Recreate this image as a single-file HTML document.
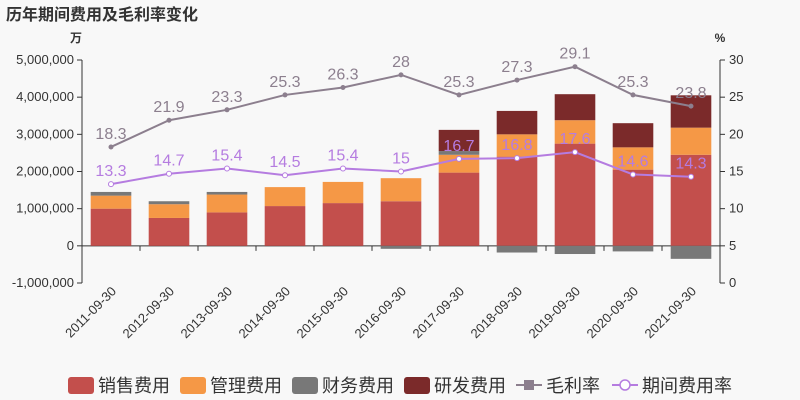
<!DOCTYPE html>
<html><head><meta charset="utf-8"><style>
body{margin:0;background:#f8f8f8;}
svg{display:block;font-family:"Liberation Sans","Noto Sans CJK SC",sans-serif;}
</style></head><body>
<svg id="c" width="800" height="400"></svg>
<script>
const categories=['2011-09-30','2012-09-30','2013-09-30','2014-09-30','2015-09-30','2016-09-30','2017-09-30','2018-09-30','2019-09-30','2020-09-30','2021-09-30'];
const sales=[1000000,750000,900000,1070000,1150000,1200000,1970000,2400000,2750000,2050000,2450000];
const mgmt=[350000,370000,480000,510000,570000,620000,480000,600000,630000,600000,730000];
const finance=[100000,80000,70000,0,0,-80000,100000,-180000,-220000,-150000,-350000];
const rd=[0,0,0,0,0,0,570000,630000,700000,650000,870000];
const margin=[18.3,21.9,23.3,25.3,26.3,28,25.3,27.3,29.1,25.3,23.8];
const rate=[13.3,14.7,15.4,14.5,15.4,15,16.7,16.8,17.6,14.6,14.3];
const leftTicks=[-1000000,0,1000000,2000000,3000000,4000000,5000000];
const rightTicks=[0,5,10,15,20,25,30];
const NS='http://www.w3.org/2000/svg',svg=document.getElementById('c');
function el(t,a,txt){const e=document.createElementNS(NS,t);for(const k in a)e.setAttribute(k,a[k]);if(txt!==undefined)e.textContent=txt;svg.appendChild(e);return e;}
const X0=82,X1=720,Y0=283,Y1=60,band=(X1-X0)/categories.length;
const yL=v=>Y0-(v+1000000)/6000000*(Y0-Y1);
const yR=v=>Y0-v/30*(Y0-Y1);
const xC=i=>X0+band*(i+0.5);
let t=el('text',{x:6,y:20,'font-size':16,'font-weight':'bold',fill:'#333'},'历年期间费用及毛利率变化');

t=el('text',{x:76,y:42,'font-size':12,fill:'#333','text-anchor':'middle','font-weight':'bold'},'万');

t=el('text',{x:720,y:42,'font-size':12,fill:'#333','text-anchor':'middle','font-weight':'bold'},'%');

leftTicks.forEach(v=>{const y=yL(v);
 const l=el('line',{x1:X0,x2:X0-5,y1:y,y2:y,stroke:'#333'});
 const tx=el('text',{x:X0-8,y:y+4,'font-size':13,fill:'#333','text-anchor':'end'},v.toLocaleString('en-US'));
 });
rightTicks.forEach(v=>{const y=yR(v);
 const l=el('line',{x1:X1,x2:X1+5,y1:y,y2:y,stroke:'#333'});
 const tx=el('text',{x:X1+9,y:y+4,'font-size':13,fill:'#333'},v);
 });
let a=el('line',{x1:X0,x2:X0,y1:Y1,y2:Y0,stroke:'#333'});
a=el('line',{x1:X1,x2:X1,y1:Y1,y2:Y0,stroke:'#333'});
a=el('line',{x1:X0,x2:X1,y1:yL(0),y2:yL(0),stroke:'#333'});
const bw=band*0.7;
const series=[[sales,'#c34f4c','sales-bar'],[mgmt,'#f59846','mgmt-bar'],[finance,'#787878','finance-bar'],[rd,'#7b2a2a','rd-bar']];
categories.forEach((c,i)=>{let pos=0,neg=0;
 series.forEach(([arr,col,nm])=>{const v=arr[i];if(!v)return;let y0,y1;
  if(v>0){y0=pos;pos+=v;y1=pos;}else{y0=neg;neg+=v;y1=neg;}
  const top=Math.min(yL(y0),yL(y1)),h=Math.abs(yL(y1)-yL(y0));
  const r=el('rect',{x:xC(i)-bw/2,y:top,width:bw,height:h,fill:col});
  });
 const tk=el('line',{x1:X0+band*i,x2:X0+band*i,y1:yL(0),y2:yL(0)+5,stroke:'#333'});
 
 const tx=el('text',{x:xC(i)+6,y:292,'font-size':13,fill:'#333','text-anchor':'end',transform:`rotate(-45 ${xC(i)+6} 292)`},c);
 });
function line(arr,col,nm,hollow){
 const p=el('polyline',{points:arr.map((v,i)=>xC(i)+','+yR(v)).join(' '),fill:'none',stroke:col,'stroke-width':2});
 
 arr.forEach((v,i)=>{const m=el('circle',{cx:xC(i),cy:yR(v),r:hollow?2.5:2,fill:hollow?'#fff':col,stroke:col});
  
  const tx=el('text',{x:xC(i),y:yR(v)-8,'font-size':16,fill:col,'text-anchor':'middle'},v);
  });}
line(margin,'#8c7f8e','margin',false);
line(rate,'#b57ce0','rate',true);
const leg=[['rect','#c34f4c','销售费用',68],['rect','#f59846','管理费用',180],['rect','#787878','财务费用',292],['rect','#7b2a2a','研发费用',404],['line','#8c7f8e','毛利率',516],['circ','#b57ce0','期间费用率',612]];
leg.forEach(([k,col,txt,x])=>{
 if(k==='rect'){const r=el('rect',{x:x,y:377,width:26,height:17,rx:3,fill:col});}
 else{const l=el('line',{x1:x,x2:x+26,y1:385,y2:385,stroke:col,'stroke-width':2});
  const m=k==='line'?el('rect',{x:x+8,y:380,width:10,height:10,fill:col}):el('circle',{cx:x+13,cy:385,r:5,fill:'#fff',stroke:col,'stroke-width':1.5});
  }
 const tx=el('text',{x:x+30,y:392,'font-size':18,fill:'#333'},txt);
 });
</script></body></html>
